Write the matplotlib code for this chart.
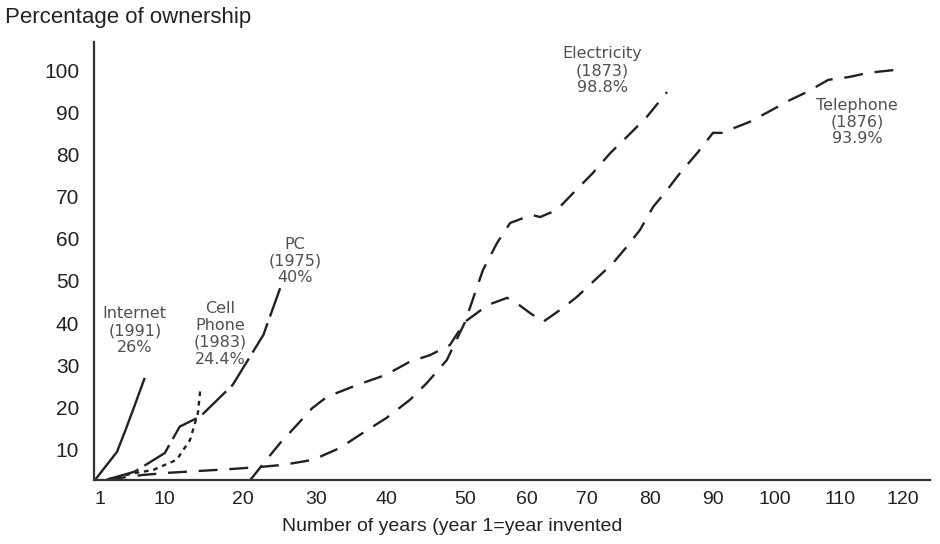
import numpy as np
import matplotlib
matplotlib.use('Agg')
import matplotlib.pyplot as plt

# Data (years since invention, percent ownership)
internet_x = [0.3, 3.4, 4.6, 5.9, 7.3]
internet_y = [2.7, 9.4, 14.6, 20.5, 27.0]

cell_x = [2.0, 5.7, 8.5, 11.6, 13.3, 14.3, 14.6]
cell_y = [2.8, 4.3, 5.1, 7.5, 12.2, 18.6, 24.1]

pc_x = [2.0, 5.9, 10.1, 12.0, 14.6, 18.7, 22.8, 25.1]
pc_y = [2.8, 4.7, 9.1, 15.4, 17.8, 25.3, 37.2, 48.3]

elec_x = [2.0, 7.0, 10.4, 18.4, 22.3, 25.5, 29.6, 33.4, 36.7, 40.1, 43.0, 45.2, 47.7,
          50.0, 52.9, 55.2, 57.3, 60.8, 62.2, 65.0, 67.7, 70.9, 73.7, 76.3, 79.5, 82.7]
elec_y = [2.8, 3.9, 4.4, 5.3, 5.8, 6.3, 7.5, 10.3, 13.9, 17.5, 21.7, 25.8, 31.2,
          40.2, 52.6, 59.1, 63.8, 65.7, 65.2, 66.9, 70.9, 75.6, 80.4, 84.2, 89.0, 94.9]

tel_x = [21.0, 23.4, 25.1, 27.4, 29.5, 31.6, 35.9, 40.0, 43.0, 45.6, 48.1, 50.0, 53.7,
         56.8, 58.1, 60.5, 62.7, 66.0, 68.3, 71.6, 74.1, 76.3, 78.4, 80.5, 82.7, 84.8,
         87.5, 90.0, 91.4, 95.9, 98.7, 102.3, 104.9, 108.2, 111.5, 114.6, 119.0]
tel_y = [2.7, 7.9, 11.5, 15.8, 19.8, 22.5, 25.3, 27.7, 30.8, 32.4, 34.8, 40.3, 44.3,
         46.0, 45.0, 42.4, 40.3, 43.6, 46.2, 50.7, 54.2, 58.1, 62.1, 67.6, 71.6, 75.7,
         80.4, 85.2, 85.2, 87.8, 90.0, 93.0, 94.9, 97.8, 98.5, 99.5, 100.2]

x_ticks = [1, 10, 20, 30, 40, 50, 60, 70, 80, 90, 100, 110, 120]
y_ticks = [10, 20, 30, 40, 50, 60, 70, 80, 90, 100]

# the x axis of the original is not evenly spaced: map years to screen position
scale_years = [0, 1, 10, 20, 30, 40, 50, 60, 70, 80, 90, 100, 110, 120, 125]
scale_pos = [92.9, 100, 164, 243, 316, 386, 465, 527, 587, 650, 713, 775, 840, 903, 934.5]


def forward(x):
    return np.interp(x, scale_years, scale_pos)


def inverse(p):
    return np.interp(p, scale_pos, scale_years)


labels = [
    ('Internet\n(1991)\n26%', 5.9, 38.2),
    ('Cell\nPhone\n(1983)\n24.4%', 17.1, 37.4),
    ('PC\n(1975)\n40%', 27.1, 54.8),
    ('Electricity\n(1873)\n98.8%', 72.4, 100.0),
    ('Telephone\n(1876)\n93.9%', 112.7, 87.8),
]

fig = plt.figure(figsize=(9.4, 5.44), dpi=100)
ax = fig.add_axes([0.1005, 0.1176, 0.8889, 0.8052])
ax.set_xscale('function', functions=(forward, inverse))

ink = '#222222'
ax.plot(internet_x, internet_y, color=ink, lw=1.7, solid_capstyle='butt')
ax.plot(cell_x, cell_y, color=ink, lw=1.7, dashes=(2, 2))
ax.plot(pc_x, pc_y, color=ink, lw=1.7, dashes=(14, 3))
ax.plot(elec_x, elec_y, color=ink, lw=1.7, dashes=(8, 5))
ax.plot(tel_x, tel_y, color=ink, lw=1.7, dashes=(8, 5))

for txt, x, y in labels:
    ax.text(x, y, txt, ha='center', va='center', fontsize=11.5, color='#505050',
            family='DejaVu Sans', linespacing=1.15)

ax.set_xlim(0.23, 124.3)
ax.set_ylim(2.7, 106.8)
ax.set_xticks(x_ticks)
ax.set_xticklabels([str(t) for t in x_ticks])
ax.set_yticks(y_ticks)
ax.xaxis.set_minor_locator(matplotlib.ticker.NullLocator())
ax.tick_params(length=0, labelcolor='#222222')
ax.tick_params(axis='x', pad=8, labelsize=14)
ax.tick_params(axis='y', pad=11, labelsize=15)
for lab in ax.get_xticklabels() + ax.get_yticklabels():
    lab.set_family('Liberation Sans')

for side in ['top', 'right']:
    ax.spines[side].set_visible(False)
for side in ['left', 'bottom']:
    ax.spines[side].set_linewidth(1.6)
    ax.spines[side].set_color('#333333')

ax.set_xlabel('Number of years (year 1=year invented', fontsize=14,
              family='Liberation Sans', color='#222222', labelpad=7, x=0.428)
fig.text(5 / 940, 1 - 18 / 544, 'Percentage of ownership', fontsize=16,
         family='Liberation Sans', color='#222222', va='center', ha='left')

fig.savefig('out.png', dpi=100)
